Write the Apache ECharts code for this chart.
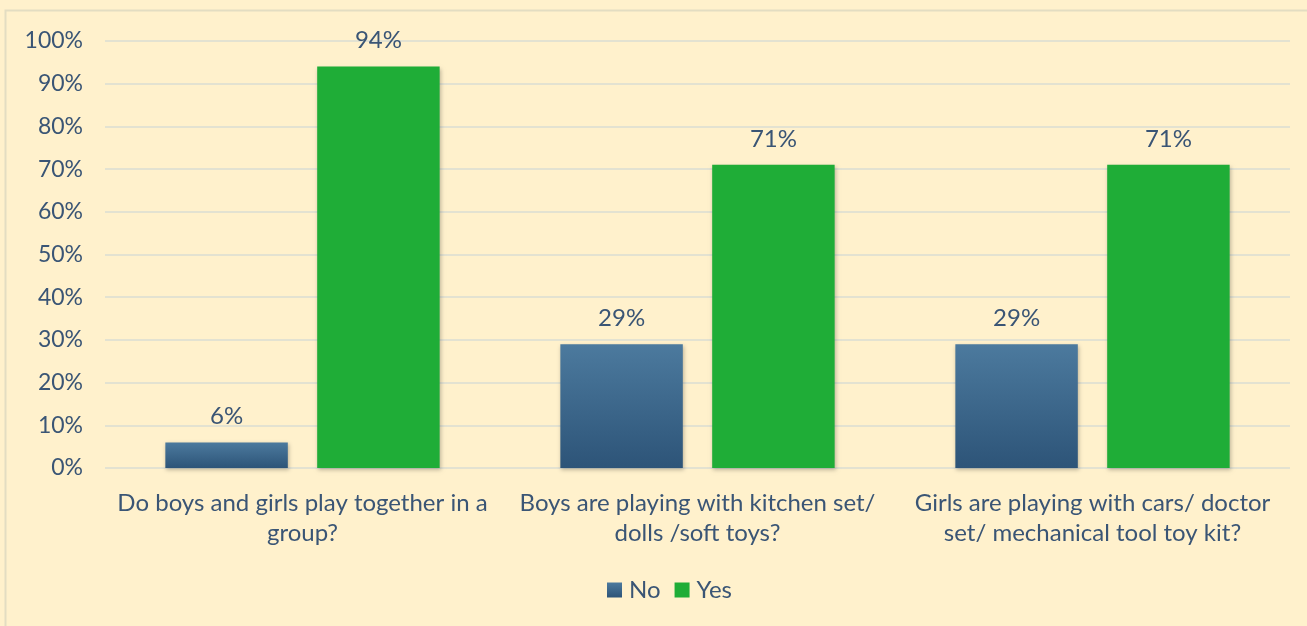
<!DOCTYPE html>
<html><head><meta charset="utf-8">
<script src="https://cdn.jsdelivr.net/npm/echarts@6/dist/echarts.min.js"></script>
<style>html,body{margin:0;padding:0;background:#FFF1CC;}#c{width:1307px;height:626px;}</style>
</head><body><div id="c"></div>
<script>
const categories = ["Do boys and girls play together in a\ngroup?", "Boys are playing with kitchen set/\ndolls /soft toys?", "Girls are playing with cars/ doctor\nset/ mechanical tool toy kit?"];
const noValues = [6, 29, 29];
const yesValues = [94, 71, 71];
const seriesNames = ["No", "Yes"];
const txt = '#3A5575';
const font = 'Lato, "Open Sans", sans-serif';
const chart = echarts.init(document.getElementById('c'));
const lbl = {show: true, position: 'top', distance: 14, formatter: p => p.value + '%', color: txt, fontSize: 24, fontFamily: font};
chart.setOption({
  backgroundColor: '#FFF1CC',
  animation: false,
  graphic: [{type: 'rect', shape: {x: 5.5, y: 10.5, width: 1310, height: 630}, style: {fill: 'none', stroke: '#E3DDC2', lineWidth: 2}, silent: true}],
  grid: {left: 105, right: 17, top: 41, bottom: 158, containLabel: false},
  legend: {data: seriesNames, bottom: 19, left: 602, itemWidth: 15, itemHeight: 15, itemGap: 14,
    textStyle: {color: txt, fontSize: 24, fontFamily: font, padding: [0, 0, 0, 2]}, icon: 'rect'},
  xAxis: {type: 'category', data: categories,
    axisLine: {show: false}, axisTick: {show: false},
    axisLabel: {color: txt, fontSize: 24, fontFamily: font, lineHeight: 30, margin: 20, interval: 0}},
  yAxis: {type: 'value', min: 0, max: 100, interval: 10,
    axisLabel: {formatter: '{value}%', color: txt, fontSize: 23, fontFamily: font, margin: 22},
    splitLine: {lineStyle: {color: '#DADDD3', width: 1.5}}, axisLine: {show: false}, axisTick: {show: false}},
  series: [
    {name: seriesNames[0], type: 'bar', data: noValues, barWidth: '31%', barGap: '24%',
      itemStyle: {color: new echarts.graphic.LinearGradient(0, 0, 0, 1, [{offset: 0, color: '#4C7A9E'}, {offset: 1, color: '#2D5478'}]),
        shadowColor: 'rgba(0,0,0,0.25)', shadowBlur: 4, shadowOffsetX: 1, shadowOffsetY: 2},
      label: lbl},
    {name: seriesNames[1], type: 'bar', data: yesValues, barWidth: '31%',
      itemStyle: {color: '#1FAD37', shadowColor: 'rgba(0,0,0,0.25)', shadowBlur: 4, shadowOffsetX: 1, shadowOffsetY: 2},
      label: lbl}
  ]
});
</script></body></html>
